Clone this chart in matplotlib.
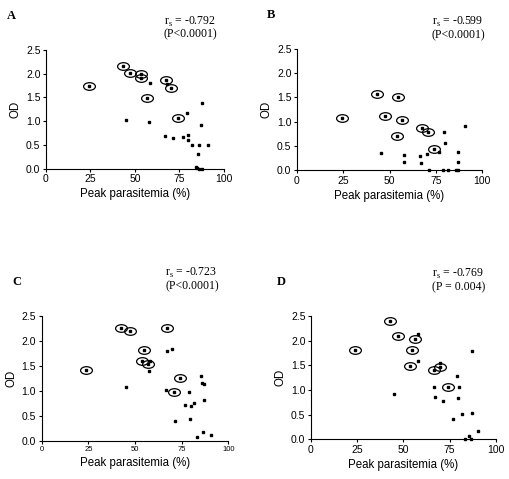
import matplotlib.pyplot as plt
from matplotlib.path import Path
from matplotlib.transforms import Affine2D

# panel A
a_circ_x = [23.9, 43.3, 47.0, 53.6, 53.6, 56.8, 67.5, 70.3, 74.1]
a_circ_y = [1.74, 2.16, 2.01, 1.99, 1.91, 1.49, 1.87, 1.71, 1.07]
a_pts_x = [58.3, 67.8, 87.4, 79.4, 45.1, 57.7, 87.0, 66.7, 71.5, 76.7, 79.9, 79.9,
           82.2, 85.9, 91.0, 85.6, 84.0, 85.0, 86.1, 87.4]
a_pts_y = [1.81, 1.79, 1.38, 1.17, 1.03, 0.98, 0.92, 0.69, 0.65, 0.66, 0.71, 0.60,
           0.50, 0.49, 0.49, 0.32, 0.03, 0.01, 0.0, 0.0]

# panel B
b_circ_x = [24.5, 43.1, 47.6, 54.8, 56.9, 54.2, 67.4, 70.6, 74.2]
b_circ_y = [1.08, 1.56, 1.12, 1.51, 1.03, 0.71, 0.87, 0.79, 0.44]
b_pts_x = [45.4, 58.0, 57.8, 66.6, 67.2, 70.1, 71.4, 76.6, 79.6, 80.0, 79.1, 81.8,
           85.9, 86.9, 87.0, 86.9, 90.8]
b_pts_y = [0.36, 0.32, 0.17, 0.29, 0.15, 0.33, 0.0, 0.37, 0.79, 0.56, 0.01, 0.0,
           0.0, 0.0, 0.37, 0.17, 0.92]

# panel C
c_circ_x = [23.75, 42.7, 47.3, 54.6, 53.6, 56.8, 67.3, 74.1, 70.7]
c_circ_y = [1.42, 2.25, 2.19, 1.82, 1.59, 1.53, 2.25, 1.26, 0.97]
c_pts_x = [45.0, 57.9, 57.5, 67.0, 69.8, 66.6, 71.25, 76.8, 79.1, 79.8, 81.8, 79.3,
           85.2, 85.7, 87.0, 86.8, 86.4, 90.7, 83.4]
c_pts_y = [1.08, 1.59, 1.40, 1.79, 1.83, 1.01, 0.39, 0.72, 0.98, 0.70, 0.75, 0.43,
           1.30, 1.16, 1.13, 0.82, 0.17, 0.11, 0.07]

# panel D
d_circ_x = [23.8, 42.8, 47.1, 56.5, 54.7, 53.6, 66.6, 70.0, 74.0]
d_circ_y = [1.81, 2.39, 2.09, 2.03, 1.82, 1.48, 1.41, 1.47, 1.06]
d_pts_x = [57.8, 57.8, 45.1, 66.6, 67.3, 70.0, 71.3, 76.9, 79.1, 80.0, 79.6, 81.9,
           87.0, 87.2, 90.4, 85.7, 83.6, 86.6]
d_pts_y = [2.13, 1.58, 0.91, 1.07, 0.86, 1.55, 0.78, 0.42, 1.28, 1.06, 0.84, 0.52,
           0.54, 1.80, 0.16, 0.07, 0.01, 0.0]

letters = ["A", "B", "C", "D"]
rs_text = ["-0.792", "-0.599", "-0.723", "-0.769"]
p_text = ["(P<0.0001)", "(P<0.0001)", "(P<0.0001)", "(P = 0.004)"]
x_ticks = [0, 25, 50, 75, 100]
y_ticks = [0.0, 0.5, 1.0, 1.5, 2.0, 2.5]

ellipse = Path.unit_circle().transformed(Affine2D().scale(1.55, 1.0))

W, H = 510, 479
fig = plt.figure(figsize=(W / 100, H / 100), dpi=100)
plt.rcParams['font.family'] = ['Liberation Sans', 'DejaVu Sans']


def px_axes(x0, x1, y_top, y_bot):
    return fig.add_axes([x0 / W, 1 - y_bot / H, (x1 - x0) / W, (y_bot - y_top) / H])


def draw_panel(ax, cx, cy, px, py, xtick_size=7.5):
    ax.plot(px, py, 's', color='black', markersize=2.1, clip_on=False, zorder=3)
    ax.plot(cx, cy, 's', color='black', markersize=1.7, clip_on=False, zorder=3)
    ax.plot(cx, cy, linestyle='none', marker=ellipse, markersize=8.5,
            markerfacecolor='none', markeredgecolor='black', markeredgewidth=0.9,
            clip_on=False, zorder=4)
    ax.set_xlim(0, 100)
    ax.set_ylim(0, 2.5)
    ax.set_xticks(x_ticks)
    ax.set_yticks(y_ticks)
    ax.set_yticklabels(["%.1f" % v for v in y_ticks])
    for s in ['top', 'right']:
        ax.spines[s].set_visible(False)
    for s in ['left', 'bottom']:
        ax.spines[s].set_linewidth(0.8)
    ax.tick_params(direction='out', length=2.5, width=0.8, pad=1.5)
    ax.tick_params(axis='y', labelsize=7.5)
    ax.tick_params(axis='x', labelsize=xtick_size)
    ax.set_xlabel("Peak parasitemia (%)", fontsize=8.3, labelpad=3)
    ax.set_ylabel("OD", fontsize=8.3, labelpad=3)


boxes = [(46, 224, 50, 168.7), (297, 482, 48.7, 170.3),
         (41.7, 228.3, 315.7, 440.7), (311, 495.7, 316, 439.3)]
data = [(a_circ_x, a_circ_y, a_pts_x, a_pts_y),
        (b_circ_x, b_circ_y, b_pts_x, b_pts_y),
        (c_circ_x, c_circ_y, c_pts_x, c_pts_y),
        (d_circ_x, d_circ_y, d_pts_x, d_pts_y)]
letter_pos = [(7, 19), (267, 18), (12, 285), (277, 285)]
# baselines of the r_s line and of the P line
rs_pos = [(164, 25, 37), (432, 25, 38), (165, 276, 289), (432, 277, 290)]

for i in range(4):
    ax = px_axes(*boxes[i])
    draw_panel(ax, *data[i], xtick_size=5.5 if i == 2 else 7.5)
    lx, ly = letter_pos[i]
    fig.text(lx / W, 1 - ly / H, letters[i], family='Liberation Serif',
             fontweight='bold', fontsize=9, ha='left', va='baseline')
    rx, ry1, ry2 = rs_pos[i]
    fig.text(rx / W, 1 - ry1 / H, "r$_\\mathregular{s}$ = " + rs_text[i],
             family='Liberation Serif', fontsize=8.5, ha='left', va='baseline')
    fig.text(rx / W, 1 - ry2 / H, p_text[i],
             family='Liberation Serif', fontsize=8.5, ha='left', va='baseline')

plt.savefig("out.png", dpi=100)
